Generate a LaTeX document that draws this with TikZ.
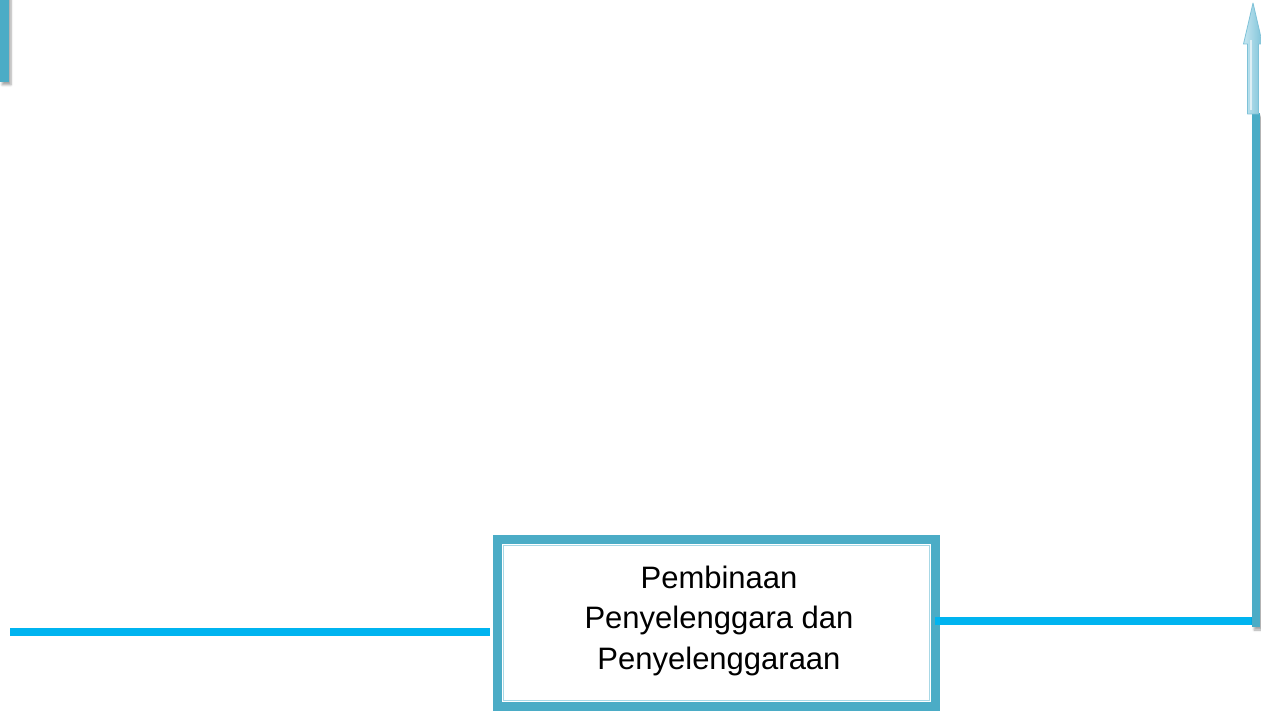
\documentclass[tikz,border=0pt]{standalone}
\usepackage{fontspec}
\setmainfont{Liberation Sans}
\usetikzlibrary{shadows.blur}
\definecolor{frameblue}{HTML}{4BACC6}
\definecolor{linkblue}{HTML}{00B4F0}
\definecolor{paleblue}{HTML}{A8D8E6}
\definecolor{headlight}{HTML}{C6E7F1}
\definecolor{headdark}{HTML}{7EC2D8}
\tikzset{
  framebox/.style={draw=frameblue, line width=8pt, minimum width=439pt, minimum height=168pt, inner sep=0pt},
  linkline/.style={draw=linkblue, line width=8pt},
  solidbar/.style={fill=frameblue, draw=none,
    blur shadow={shadow xshift=2pt, shadow yshift=-3pt, shadow blur steps=6, shadow opacity=35}},
  labeltext/.style={align=center, font=\fontsize{31}{40.5}\selectfont, text=black},
}
\begin{document}
\begin{tikzpicture}[x=1pt, y=-1pt]
  \useasboundingbox (0,0) rectangle (1261,711);

  % small bar at the top left corner
  \path[solidbar] (0,-10) rectangle (9,82);

  % central box with its inner double rule
  \node[framebox] (box) at (716.5,623) {};
  \draw[frameblue, line width=2.5pt] ([shift={(8,8)}]box.north west) rectangle ([shift={(-8,-8)}]box.south east);
  \draw[paleblue, line width=1pt] ([shift={(10.5,10.5)}]box.north west) rectangle ([shift={(-10.5,-10.5)}]box.south east);
  \node[labeltext] (lbl) at (719,620.5) {Pembinaan\\Penyelenggara dan\\Penyelenggaraan};

  % connector end points
  \coordinate (lstart) at (10,632);
  \coordinate (lend) at (490,632);
  \coordinate (rstart) at (935,621);
  \coordinate (corner) at (1252,621);
  \coordinate (bartop) at (1256,113);

  % horizontal links
  \draw[linkline] (lstart) -- (lend);
  \draw[linkline] (rstart) -- (corner);

  % rising bar on the right
  \path[solidbar] (1252,627) rectangle (1260,113);

  % pale block arrow on top of the bar
  \shade[left color=headlight, right color=headdark, draw=headdark, line width=0.8pt, line join=round]
    (1247.5,114) -- (1247.5,44) -- (1243.5,44) -- (1253,3) -- (1262.5,44) -- (1258.5,44) -- (1258.5,114) -- cycle;
  \draw[white, opacity=0.6, line width=1.4pt] (1251,110) -- (1251,40);
\end{tikzpicture}
\end{document}
